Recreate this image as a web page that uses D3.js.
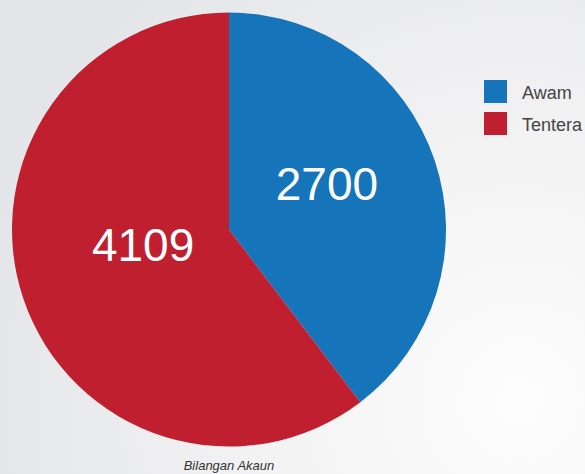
<!DOCTYPE html>
<html><head><meta charset="utf-8">
<script src="https://cdn.jsdelivr.net/npm/d3@7/dist/d3.min.js"></script>
<style>html,body{margin:0;padding:0;overflow:hidden;}svg{display:block;}</style>
</head><body>
<script>
const categories = ["Awam", "Tentera"];
const values = [2700, 4109];
const colors = ["#1574BA", "#BF1F2F"];
const title = "Bilangan Akaun";

const W = 585, H = 474;
const svg = d3.select("body").append("svg").attr("width", W).attr("height", H);
const defs = svg.append("defs");
const grad = defs.append("radialGradient").attr("id", "bg")
  .attr("gradientUnits", "userSpaceOnUse").attr("cx", 520).attr("cy", 400).attr("r", 560);
grad.append("stop").attr("offset", "0%").attr("stop-color", "#fdfdfd");
grad.append("stop").attr("offset", "45%").attr("stop-color", "#f3f3f4");
grad.append("stop").attr("offset", "100%").attr("stop-color", "#e4e5e8");
svg.append("rect").attr("width", W).attr("height", H).attr("fill", "url(#bg)");

const cx = 229, cy = 229.5, R = 217;
const data = categories.map((c, i) => ({ name: c, value: values[i], color: colors[i] }));
const pie = d3.pie().value(d => d.value).sort(null);
const arc = d3.arc().innerRadius(0).outerRadius(R);
const arcs = pie(data);
const g = svg.append("g").attr("transform", `translate(${cx},${cy})`);
g.selectAll("path").data(arcs).join("path").attr("d", arc).attr("fill", d => d.data.color);

const k = 97;
g.selectAll("text.lbl").data(arcs).join("text").attr("class", "lbl")
  .attr("x", d => k * Math.sin((d.startAngle + d.endAngle) / 2) + 6)
  .attr("y", d => -k * Math.cos((d.startAngle + d.endAngle) / 2) - 15)
  .attr("text-anchor", "middle").attr("dominant-baseline", "central")
  .attr("font-family", "Liberation Sans, Arial, sans-serif").attr("font-size", 46)
  .attr("fill", "#fff").text(d => d.data.value);

const leg = svg.append("g").attr("transform", "translate(484,80)");
const li = leg.selectAll("g").data(data).join("g").attr("transform", (d, i) => `translate(0,${i * 32})`);
li.append("rect").attr("width", 23).attr("height", 23).attr("fill", d => d.color);
li.append("text").attr("x", 38).attr("y", 18.5)
  .attr("font-family", "Liberation Sans, Arial, sans-serif").attr("font-size", 18)
  .attr("fill", "#444").text(d => d.name);

svg.append("text").attr("x", cx).attr("y", 469.5).attr("text-anchor", "middle")
  .attr("font-family", "Liberation Sans, Arial, sans-serif").attr("font-size", 13)
  .attr("font-style", "italic").attr("fill", "#333").text(title);
</script>
</body></html>
